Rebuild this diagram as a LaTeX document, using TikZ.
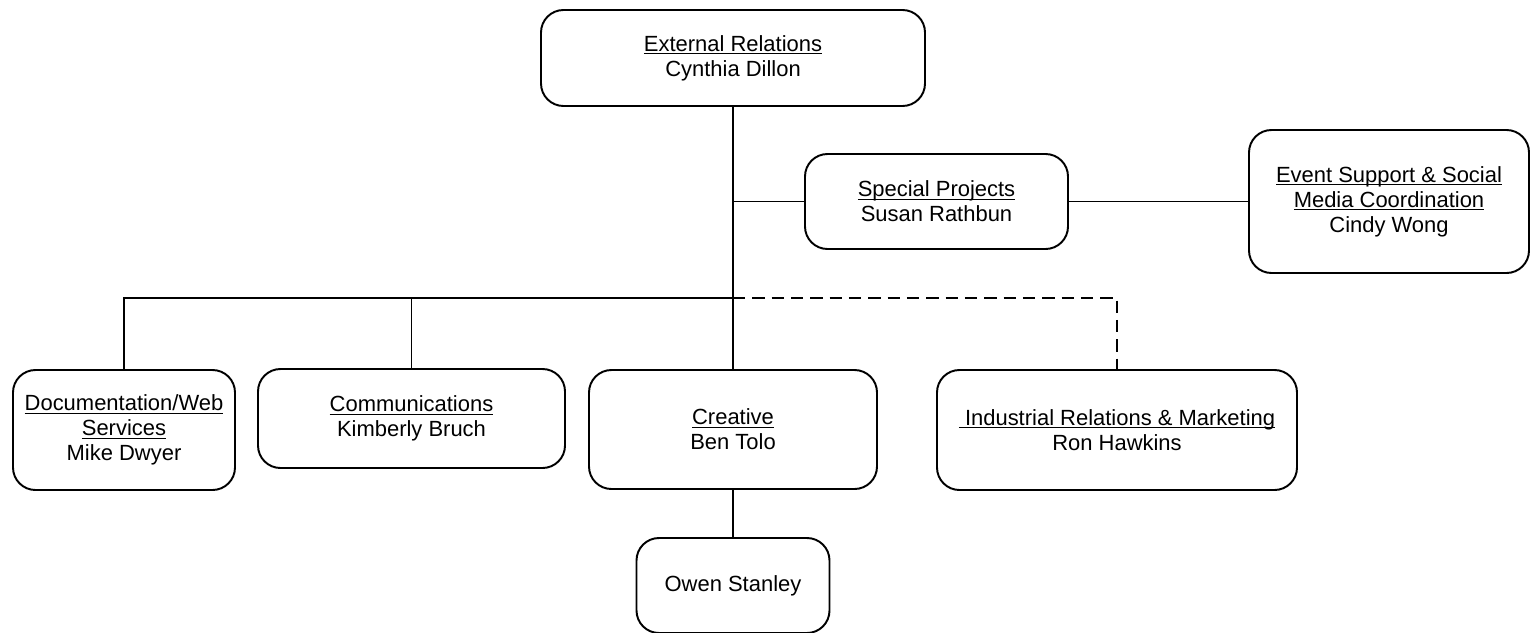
\documentclass[tikz,border=0pt]{standalone}
\usepackage{fontspec}
\setmainfont{Liberation Sans}
\usetikzlibrary{calc}

\newcommand{\ulname}[1]{\underline{\smash{#1}}\vphantom{#1}}

\begin{document}
\begin{tikzpicture}[unit/.style={draw, line width=1.1pt, rounded corners=0.45cm, align=center, inner sep=2pt, font=\fontsize{12.5}{14.2}\selectfont}, link/.style={line width=1.1pt}]
\useasboundingbox (0, 0) rectangle (30.6, -12.64);

\node[unit, minimum width=7.68cm, minimum height=1.92cm] (1) at (14.66, -1.16) {\ulname{External Relations}\\Cynthia Dillon};
\node[unit, minimum width=5.26cm, minimum height=1.90cm] (2) at (18.73, -4.03) {\ulname{Special Projects}\\Susan Rathbun};
\node[unit, minimum width=5.60cm, minimum height=2.86cm] (3) at (27.78, -4.03) {\ulname{Event Support \& Social}\\\ulname{Media Coordination}\\Cindy Wong};
\node[unit, minimum width=4.44cm, minimum height=2.40cm] (4) at (2.48, -8.60) {\ulname{Documentation/Web}\\\ulname{Services}\\Mike Dwyer};
\node[unit, minimum width=6.14cm, minimum height=1.98cm] (5) at (8.23, -8.37) {\ulname{Communications}\\Kimberly Bruch};
\node[unit, minimum width=5.76cm, minimum height=2.38cm] (6) at (14.66, -8.59) {\ulname{Creative}\\Ben Tolo};
\node[unit, minimum width=7.20cm, minimum height=2.40cm] (7) at (22.34, -8.60) {\ulname{~Industrial Relations \& Marketing}\\Ron Hawkins};
\node[unit, minimum width=3.86cm, minimum height=1.90cm] (8) at (14.66, -11.71) {Owen Stanley};

\coordinate (bus) at (14.66, -5.96);

\draw[link] (1.south) -- (6.north);
\draw[link] (2.west) -- (2.west -| 1.south);
\draw[link] (2.east) -- (3.west);
\draw[link] (4.north) |- (bus);
\draw[link] (5.north) -- (5.north |- bus);
\draw[link, dash pattern=on 7pt off 4pt] (bus) -| (7.north);
\draw[link] (6.south) -- (8.north);

\end{tikzpicture}
\end{document}
